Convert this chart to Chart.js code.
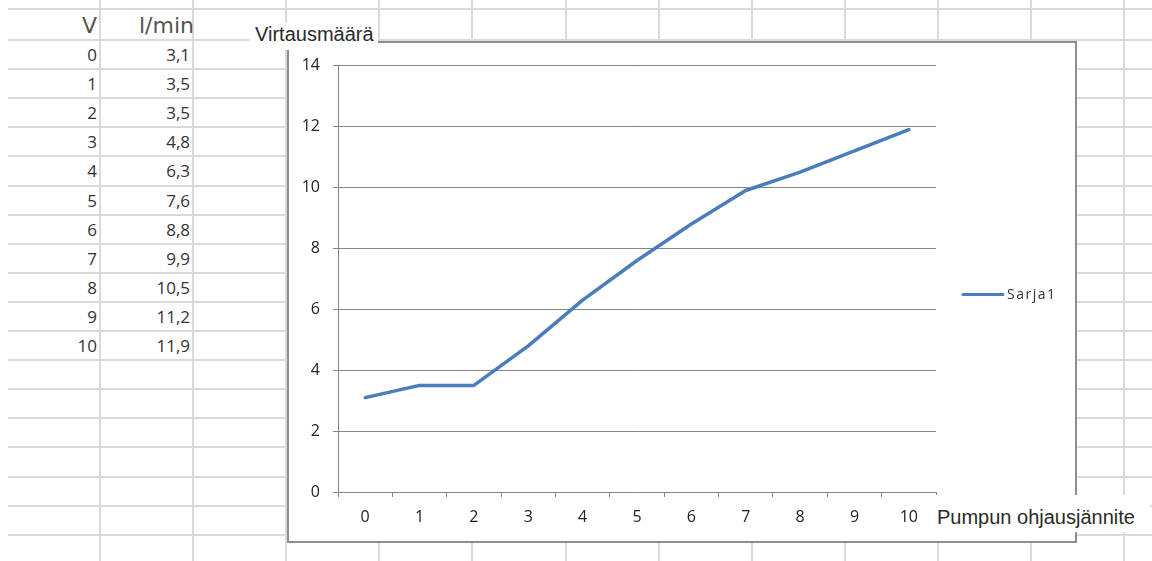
<!DOCTYPE html>
<html lang="fi">
<head>
<meta charset="utf-8">
<title>Virtausmäärä</title>
<script src="https://cdn.jsdelivr.net/npm/chart.js@4.4.1/dist/chart.umd.min.js"></script>
<style>
  html, body { margin: 0; padding: 0; background: #fff; }
  #sheet { position: relative; width: 1152px; height: 561px; overflow: hidden; background: #fff; }
  .hline { position: absolute; height: 2px; background: #dadada; }
  .vline { position: absolute; width: 2px; background: #dadada; }
  .cell { position: absolute; text-align: right; white-space: nowrap; }
  .head { font: 22px "DejaVu Sans", sans-serif; color: #555; }
  .num { font: 17px "Open Sans", sans-serif; color: #333; }
  #chartBox {
    position: absolute; left: 287px; top: 41px; width: 790px; height: 502px;
    box-sizing: border-box; border: 2px solid #8e8e8e; background: #fff;
  }
  #chartBox canvas { position: absolute; left: 0; top: 0; }
  .axisTitle {
    position: absolute; background: #fff; white-space: nowrap;
    font: 20px "Liberation Sans", Arial, sans-serif; color: #2a2a2a; line-height: 22px;
  }
</style>
</head>
<body>
<div id="sheet">
  <div id="chartBox"><canvas id="flowChart" width="786" height="498"></canvas></div>
  <div class="axisTitle" id="yTitle" style="left:250px; top:23px; width:128px; height:27px; padding-left:5px; box-sizing:border-box;"></div>
  <div class="axisTitle" id="xTitle" style="left:936px; top:495px; width:214px; height:37px; padding:11px 0 0 1px; box-sizing:border-box;"></div>
</div>
<script>
// Measured pump data: control voltage (V) vs. flow rate (l/min)
const voltages = [0, 1, 2, 3, 4, 5, 6, 7, 8, 9, 10];
const flowRates = [3.1, 3.5, 3.5, 4.8, 6.3, 7.6, 8.8, 9.9, 10.5, 11.2, 11.9];
const columnHeads = ['V', 'l/min'];
const seriesName = 'Sarja1';
const yTitleText = 'Virtausmäärä';
const xTitleText = 'Pumpun ohjausjännite';

const sheet = document.getElementById('sheet');

// Spreadsheet gridlines behind everything
function addLine(cls, left, top, w, h) {
    const el = document.createElement('div');
    el.className = cls;
    el.style.left = left + 'px';
    el.style.top = top + 'px';
    if (w) el.style.width = w + 'px';
    if (h) el.style.height = h + 'px';
    sheet.insertBefore(el, sheet.firstChild);
}
const rowLines = [9];
for (let n = 0; n < 19; n++) rowLines.push(Math.round(40 + 29.1 * n));
rowLines.forEach(y => addLine('hline', 8, y - 1, 1152 - 8, 0));
for (let n = 0; n < 12; n++) addLine('vline', Math.round(100 + 93.1 * n) - 1, 0, 0, 561);

// Table cells with the same values the chart uses
function addCell(cls, text, left, top, width, height) {
    const el = document.createElement('div');
    el.className = 'cell ' + cls;
    el.textContent = text;
    el.style.left = left + 'px';
    el.style.top = top + 'px';
    el.style.width = width + 'px';
    el.style.height = height + 'px';
    el.style.lineHeight = height + 'px';
    sheet.insertBefore(el, document.getElementById('chartBox'));
}
addCell('head', columnHeads[0], 8, 10, 89, 31);
addCell('head', columnHeads[1], 100, 10, 94, 31);
voltages.forEach((v, i) => {
    const top = Math.round(40 + 29.1 * i);
    addCell('num', String(v), 8, top, 89, 29);
    addCell('num', String(flowRates[i]).replace('.', ','), 100, top, 90, 29);
});

document.getElementById('yTitle').textContent = yTitleText;
document.getElementById('xTitle').textContent = xTitleText;

// Legend entry to the right of the plot
const seriesKey = {
    id: 'seriesKey',
    afterDraw(chart) {
        const { ctx, chartArea } = chart;
        const ds = chart.data.datasets[0];
        const y = chartArea.top + 229;
        const x0 = chartArea.right + 27;
        ctx.save();
        ctx.strokeStyle = ds.borderColor;
        ctx.lineWidth = 3;
        ctx.lineCap = 'round';
        ctx.beginPath();
        ctx.moveTo(x0, y);
        ctx.lineTo(x0 + 40, y);
        ctx.stroke();
        ctx.font = '14px "Open Sans", sans-serif';
        ctx.fillStyle = '#333';
        ctx.textBaseline = 'middle';
        ctx.letterSpacing = '1.5px';
        ctx.fillText(ds.label, x0 + 44, y);
        ctx.restore();
    }
};

const tickFont = { family: '"Open Sans", sans-serif', size: 16 };
const axisGray = '#868686';

new Chart(document.getElementById('flowChart').getContext('2d'), {
    type: 'line',
    data: {
        labels: voltages,
        datasets: [{
            label: seriesName,
            data: flowRates,
            borderColor: '#4a7ebb',
            borderWidth: 3.5,
            pointRadius: 0,
            tension: 0,
            borderJoinStyle: 'round',
            borderCapStyle: 'round'
        }]
    },
    options: {
        responsive: false,
        animation: false,
        devicePixelRatio: 1,
        layout: { padding: { top: 19, right: 139, left: 0, bottom: 0 } },
        plugins: {
            legend: { display: false },
            tooltip: { enabled: false }
        },
        scales: {
            x: {
                type: 'category',
                offset: true,
                grid: { offset: true, drawOnChartArea: false, drawTicks: true, tickLength: 5, color: axisGray },
                border: { color: axisGray, width: 1 },
                ticks: { font: tickFont, color: '#222', padding: 11, maxRotation: 0, autoSkip: false },
                afterFit: scale => { scale.height = 49; }
            },
            y: {
                min: 0,
                max: 14,
                grid: { color: axisGray, tickLength: 5 },
                border: { color: axisGray, width: 1 },
                ticks: { stepSize: 2, font: tickFont, color: '#222', padding: 13 },
                afterFit: scale => { scale.width = 49; }
            }
        }
    },
    plugins: [seriesKey]
});
</script>
</body>
</html>
